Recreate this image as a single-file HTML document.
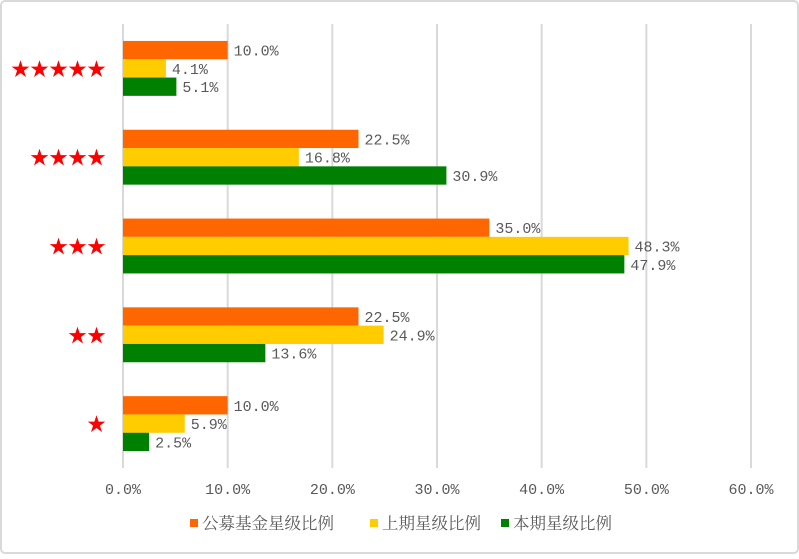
<!DOCTYPE html>
<html><head><meta charset="utf-8"><style>
body{margin:0;background:#fff;}
svg text{font-family:"Liberation Serif","Noto Serif CJK SC",serif;}
svg text.num{font-family:"Liberation Mono","Noto Serif CJK SC",monospace;}
</style></head><body>
<svg width="799" height="554" xmlns="http://www.w3.org/2000/svg">
<rect x="1" y="1" width="797" height="552" rx="4" fill="#fff" stroke="#d9d9d9" stroke-width="2"/>
<g id="grid"></g><g id="bars"></g><g id="labels"></g>
<g id="legend"></g>
</svg>
<script>
const categories=["★★★★★","★★★★","★★★","★★","★"];
const fundRatio=[10.0,22.5,35.0,22.5,10.0];
const prevRatio=[4.1,16.8,48.3,24.9,5.9];
const currRatio=[5.1,30.9,47.9,13.6,2.5];
const ticks=[0,10,20,30,40,50,60];
const seriesNames=["公募基金星级比例","上期星级比例","本期星级比例"];
const colors=["#ff6600","#ffcc00","#008000"];
const NS="http://www.w3.org/2000/svg";
const x0=123,x1=751,xmax=60,plotTop=24,plotBot=468;
const xs=v=>x0+v/xmax*(x1-x0);
const band=(plotBot-plotTop)/categories.length;
const yc=i=>plotTop+band*(i+0.5);
function mk(t,a,p){const e=document.createElementNS(NS,t);for(const k in a)e.setAttribute(k,a[k]);p.appendChild(e);return e;}
const g=document.getElementById('grid'),b=document.getElementById('bars'),l=document.getElementById('labels'),lg=document.getElementById('legend');
ticks.forEach(t=>{
 const ln=mk('line',{x1:xs(t),x2:xs(t),y1:plotTop,y2:plotBot,stroke:'#d9d9d9','stroke-width':2},g);
 
 
 const tx=mk('text',{x:xs(t),y:494,'text-anchor':'middle','font-size':15,fill:'#595959','class':'num'},l);
 tx.textContent=t.toFixed(1)+'%';
 
 
});
const series=[fundRatio,prevRatio,currRatio];
const bh=18.3;
categories.forEach((c,i)=>{
 const ct=mk('text',{x:106,y:yc(i)+7,'text-anchor':'end','font-size':19,fill:'#ff0000'},l);
 ct.textContent=c;
 
 
 series.forEach((s,j)=>{
  const y=yc(i)-1.5*bh+j*bh;
  const r=mk('rect',{x:x0,y:y,width:xs(s[i])-x0,height:bh,fill:colors[j]},b);
  
  
  const t=mk('text',{x:xs(s[i])+6,y:y+bh/2+5.5,'font-size':15,fill:'#595959','class':'num'},l);
  t.textContent=s[i].toFixed(1)+'%';
  
  
 });
});
const lx=[190,370,501];
seriesNames.forEach((n,j)=>{
 const r=mk('rect',{x:lx[j],y:519,width:8,height:8,fill:colors[j]},lg);
 
 
 const t=mk('text',{x:lx[j]+12,y:529,'font-size':16.5,fill:'#595959'},lg);
 t.textContent=n;
 
 
});
</script>
</body></html>
